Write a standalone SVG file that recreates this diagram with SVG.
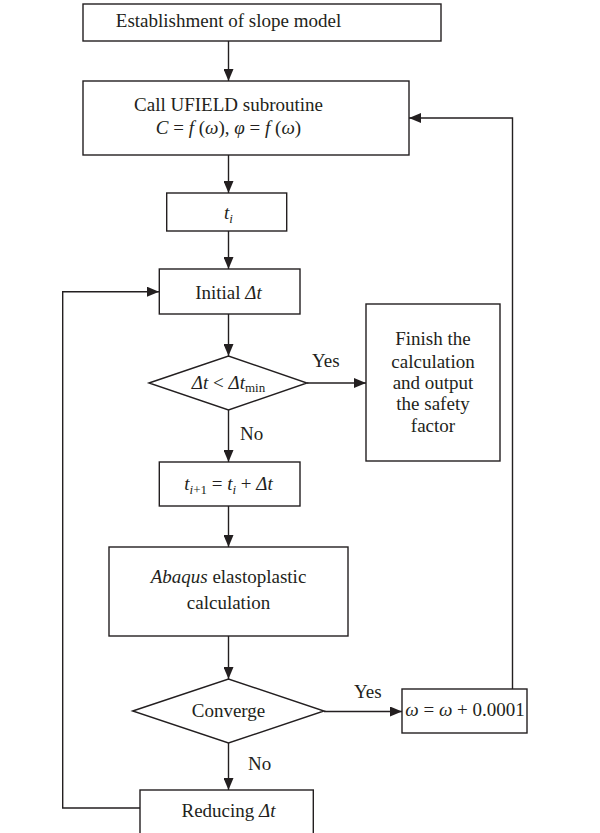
<svg xmlns="http://www.w3.org/2000/svg" width="600" height="833" viewBox="0 0 600 833">
<defs>
<style>
.box{fill:#fff;stroke:#231f20;stroke-width:1.4}
.ln{fill:none;stroke:#231f20;stroke-width:1.4}
text{font-family:"Liberation Serif","DejaVu Serif",serif;font-size:19px;fill:#231f20}
.c{text-anchor:middle}
.i{font-style:italic}
</style>
<marker id="ah" viewBox="0 0 12 10" refX="12" refY="5" markerWidth="12" markerHeight="10" markerUnits="userSpaceOnUse" orient="auto">
<path d="M0,0 L12,5 L0,10 Z" fill="#231f20"/>
</marker>
</defs>
<rect width="600" height="833" fill="#fff"/>
<g id="connectors">
<line class="ln" x1="228.5" y1="41" x2="228.5" y2="81" marker-end="url(#ah)"/>
<line class="ln" x1="228.5" y1="155" x2="228.5" y2="193" marker-end="url(#ah)"/>
<line class="ln" x1="228.5" y1="231" x2="228.5" y2="269" marker-end="url(#ah)"/>
<line class="ln" x1="228.5" y1="314" x2="228.5" y2="356" marker-end="url(#ah)"/>
<line class="ln" x1="228.5" y1="410" x2="228.5" y2="462" marker-end="url(#ah)"/>
<line class="ln" x1="228.5" y1="506" x2="228.5" y2="547" marker-end="url(#ah)"/>
<line class="ln" x1="228.5" y1="636" x2="228.5" y2="679" marker-end="url(#ah)"/>
<line class="ln" x1="228.5" y1="743" x2="228.5" y2="790" marker-end="url(#ah)"/>
<line class="ln" x1="307" y1="383" x2="366" y2="383" marker-end="url(#ah)"/>
<line class="ln" x1="324" y1="711.5" x2="402" y2="711.5" marker-end="url(#ah)"/>
<polyline class="ln" points="512.5,689 512.5,118 409,118" marker-end="url(#ah)"/>
<polyline class="ln" points="140,808 62.7,808 62.7,291.7 159,291.7" marker-end="url(#ah)"/>
<text x="312" y="367">Yes</text>
<text x="240" y="440">No</text>
<text x="354" y="698">Yes</text>
<text x="248" y="770">No</text>
</g>
<g id="n1"><rect class="box" x="83" y="4" width="358" height="37"/>
<text class="c" x="228.5" y="27">Establishment of slope model</text></g>
<g id="n2"><rect class="box" x="83" y="81" width="326" height="74"/>
<text class="c" x="228.5" y="111">Call UFIELD subroutine</text>
<text class="c" x="228.5" y="134"><tspan class="i">C</tspan> = <tspan class="i">f</tspan> (<tspan class="i">ω</tspan>), <tspan class="i">φ</tspan> = <tspan class="i">f</tspan> (<tspan class="i">ω</tspan>)</text></g>
<g id="n3"><rect class="box" x="166.7" y="193" width="120" height="38"/>
<text class="c" x="228.5" y="219"><tspan class="i">t</tspan><tspan class="i" font-size="13" dy="4">i</tspan></text></g>
<g id="n4"><rect class="box" x="159.3" y="269" width="140.7" height="45"/>
<text class="c" x="228.5" y="299">Initial <tspan class="i">Δt</tspan></text></g>
<g id="n5"><polygon class="box" points="149,383 228.5,356 307,383 228.5,410"/>
<text class="c" x="228.5" y="389"><tspan class="i">Δt</tspan> &lt; <tspan class="i">Δt</tspan><tspan font-size="13" dy="3">min</tspan></text></g>
<g id="n6"><rect class="box" x="366" y="304" width="134" height="157"/>
<text class="c" x="433" y="345">Finish the</text>
<text class="c" x="433" y="368">calculation</text>
<text class="c" x="433" y="389">and output</text>
<text class="c" x="433" y="410">the safety</text>
<text class="c" x="433" y="432">factor</text></g>
<g id="n7"><rect class="box" x="159.3" y="462" width="140.7" height="44"/>
<text class="c" x="228.5" y="490"><tspan class="i">t</tspan><tspan class="i" font-size="13" dy="4">i</tspan><tspan font-size="13">+1</tspan><tspan dy="-4"> = </tspan><tspan class="i">t</tspan><tspan class="i" font-size="13" dy="4">i</tspan><tspan dy="-4"> + </tspan><tspan class="i">Δt</tspan></text></g>
<g id="n8"><rect class="box" x="109" y="547" width="239" height="89"/>
<text class="c" x="228.5" y="583"><tspan class="i">Abaqus</tspan> elastoplastic</text>
<text class="c" x="228.5" y="609">calculation</text></g>
<g id="n9"><polygon class="box" points="132.7,711 228.5,679 324,711 228.5,743"/>
<text class="c" x="228.5" y="717">Converge</text></g>
<g id="n10"><rect class="box" x="402" y="689" width="125" height="44"/>
<text class="c" x="465" y="716" font-size="18"><tspan class="i">ω</tspan> = <tspan class="i">ω</tspan> + 0.0001</text></g>
<g id="n11"><rect class="box" x="140" y="790" width="173.3" height="60"/>
<text class="c" x="228.5" y="817">Reducing <tspan class="i">Δt</tspan></text></g>
</svg>
